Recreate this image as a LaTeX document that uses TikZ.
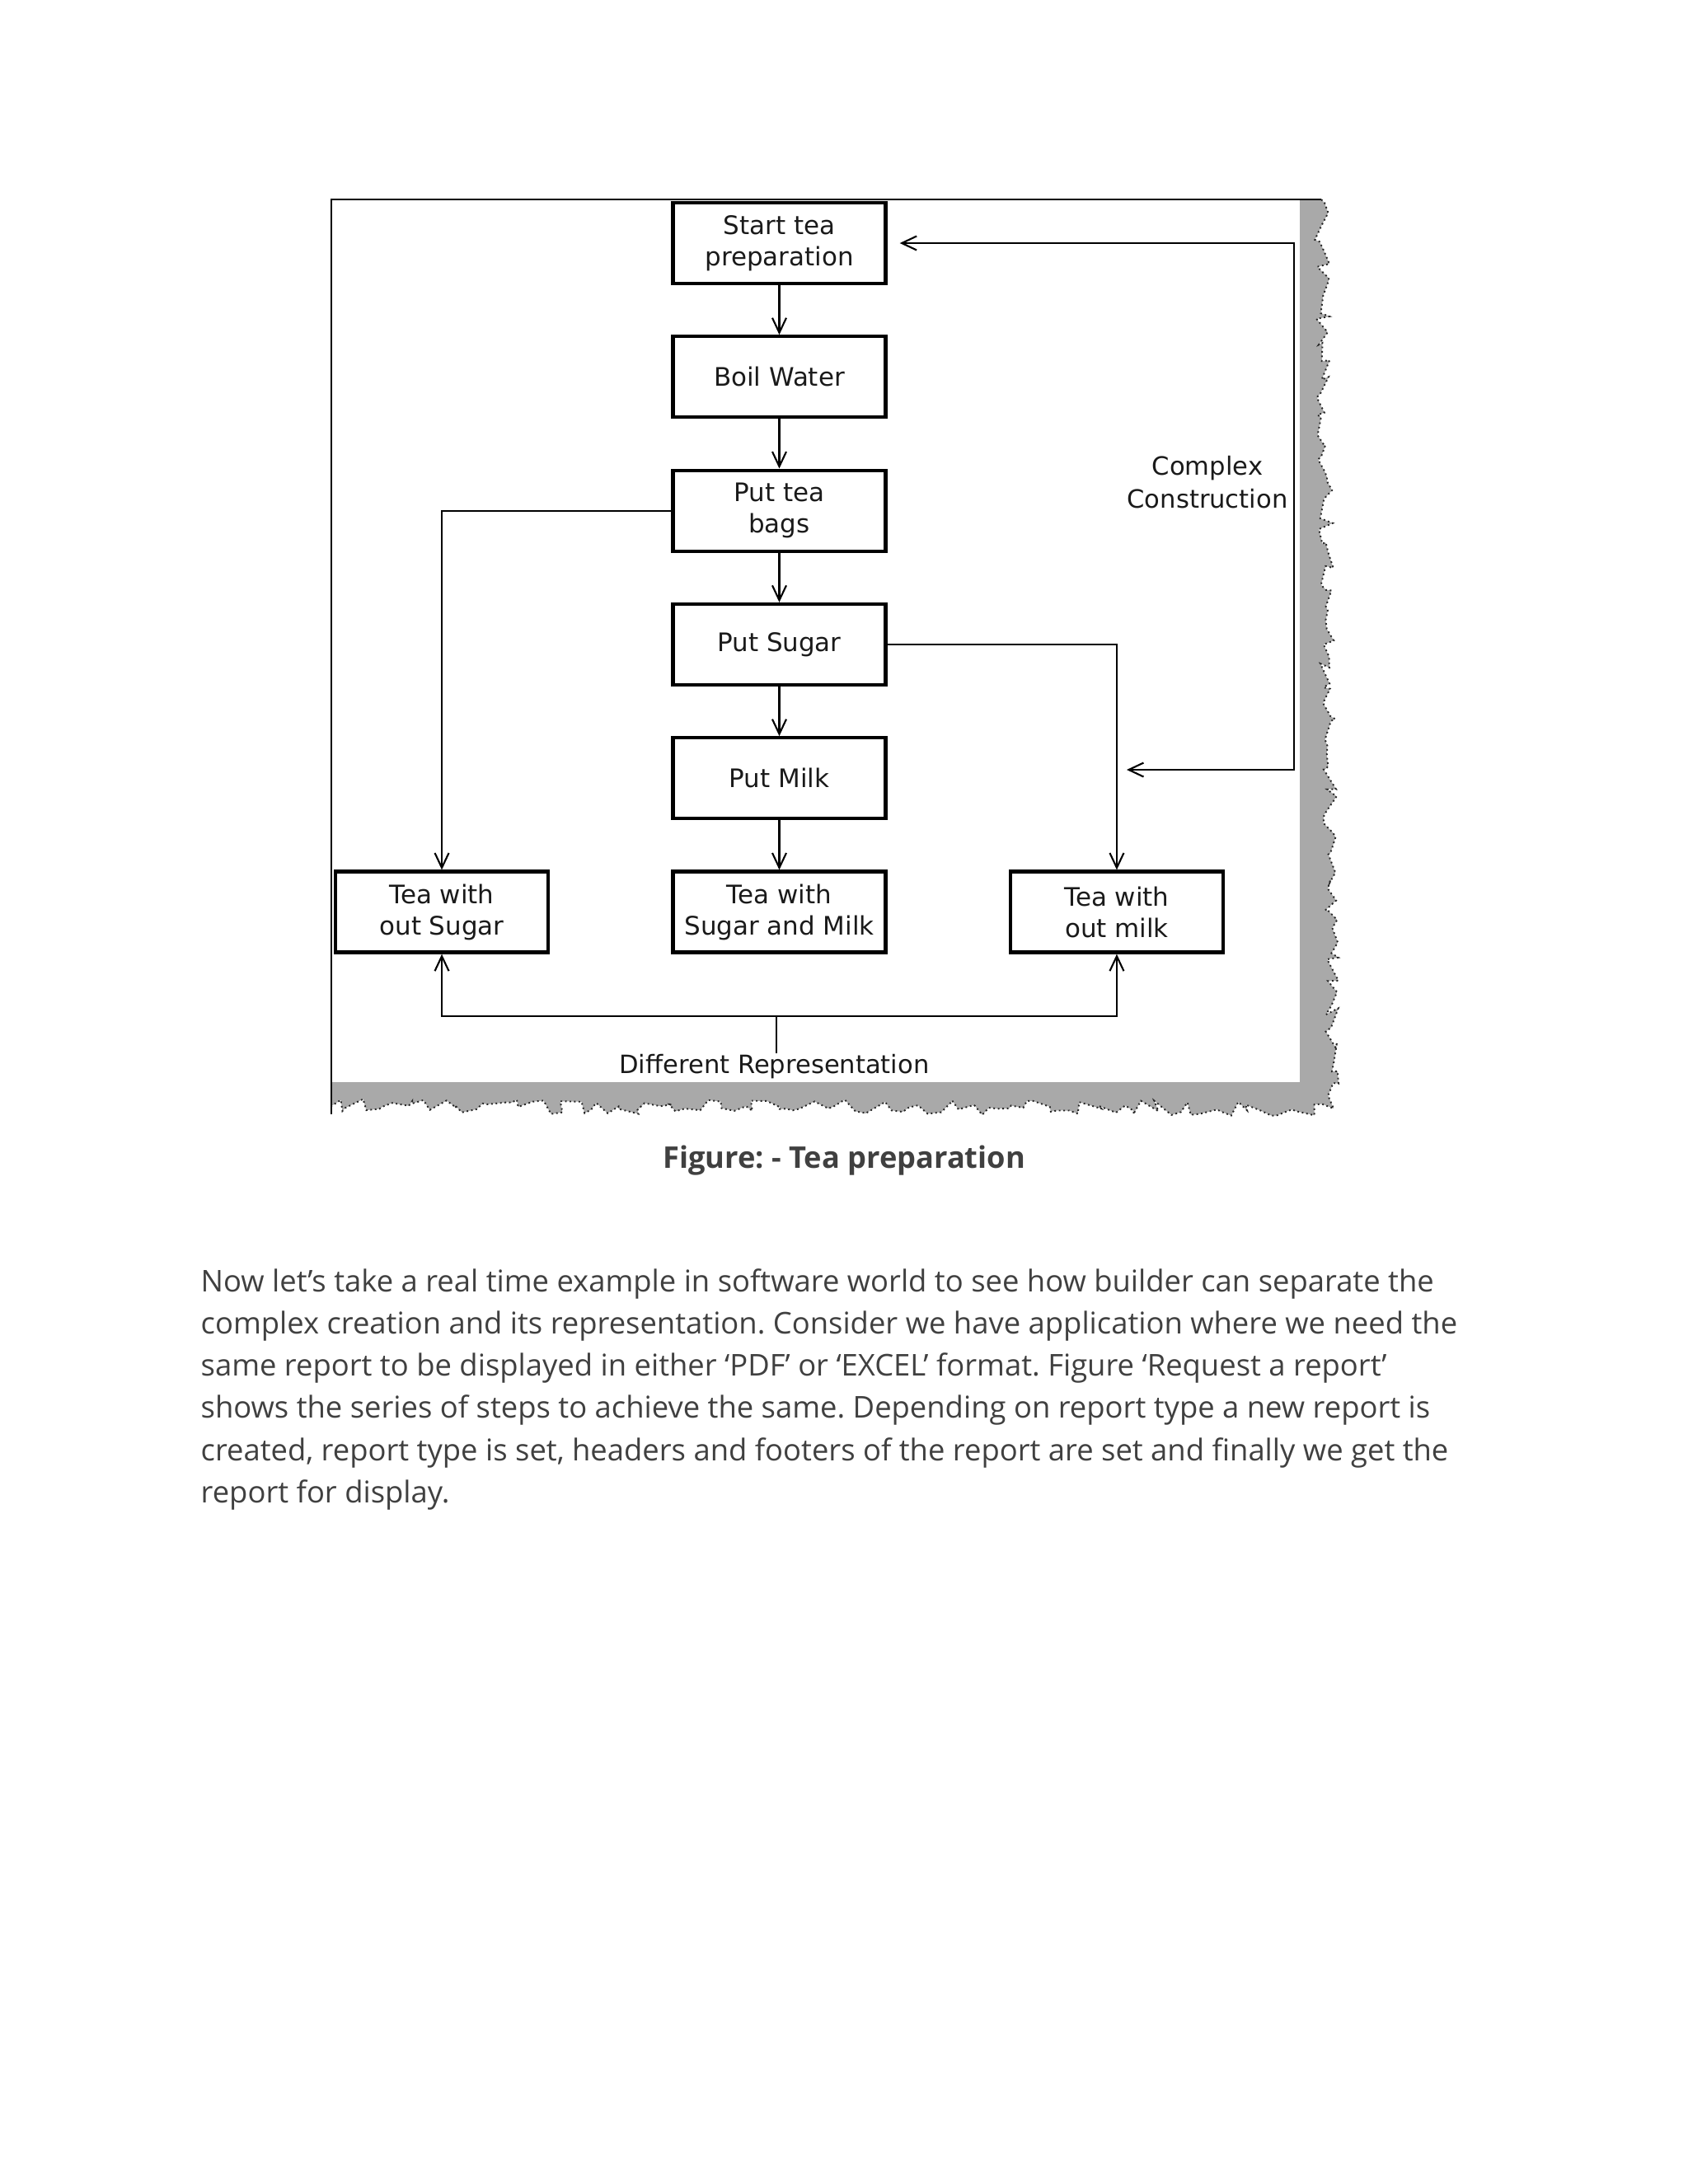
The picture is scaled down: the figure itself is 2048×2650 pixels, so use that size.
\documentclass[tikz,border=0pt]{standalone}
\usepackage{fontspec}
\usepackage{tikz}
\usetikzlibrary{arrows.meta, positioning, decorations.pathmorphing}
\usepackage{xcolor}

\newfontfamily\diafont{DejaVu Sans}
\newfontfamily\bodyfont{Open Sans}
\definecolor{inkgrey}{HTML}{1A1A1A}
\definecolor{bodygrey}{HTML}{404040}
\definecolor{shadowgrey}{HTML}{A9A9A9}
\frenchspacing

\begin{document}
\begin{tikzpicture}[
    x=0.01cm, y=-0.01cm,
    node distance=0.6cm and 1.47cm,
    >={Straight Barb[length=1.8mm, width=1.7mm]},
    box/.style={draw, line width=1.2pt, minimum width=2.58cm, minimum height=0.98cm, inner sep=2pt, font=\diafont\fontsize{8.8}{10.8}\selectfont, text=inkgrey, align=center},
    note/.style={font=\diafont\fontsize{8.7}{11.4}\selectfont, text=inkgrey, align=center},
    arrow/.style={->, line width=0.6pt},
    wire/.style={line width=0.6pt},
    torn/.style={decoration={random steps, segment length=0.1cm, amplitude=0.09cm}},
    bodytext/.style={font=\bodyfont\fontsize{10.35}{14.6}\selectfont, text=bodygrey, anchor=base west, inner sep=0pt},
]
    \fill[white] (0,0) rectangle (2048,2650);
    \useasboundingbox (0,0) rectangle (2048,2650);

    % Torn paper shadow
    \pgfmathsetseed{12}
    \fill[shadowgrey] (1577,242) -- (1603,242) decorate[torn] {-- (1618,1345) -- (402,1342)} -- (402,1313) -- (1577,1313) -- cycle;
    \pgfmathsetseed{12}
    \draw[densely dotted, gray!30!black, line width=0.55pt] (1603,242) decorate[torn] {-- (1618,1345) -- (402,1342)};

    % Frame
    \draw[wire] (1603,242) -- (402,242) -- (402,1352);

    % Main steps
    \node[box] (start) at (945.5,295) {Start tea\\preparation};
    \node[box, below=of start] (boil) {Boil Water};
    \node[box, below=of boil] (bags) {Put tea\\bags};
    \node[box, below=of bags] (sugar) {Put Sugar};
    \node[box, below=of sugar] (milk) {Put Milk};
    \node[box, below=of milk] (full) {Tea with\\Sugar and Milk};

    % Representations
    \node[box, left=of full] (nosugar) {Tea with\\out Sugar};
    \node[box, right=of full] (nomilk) {Tea with\\out milk};

    % Labels
    \node[note] (cc) at (1465,585) {Complex\\Construction};
    \node[note, anchor=base, inner sep=0pt] (rep) at (939.5,1302) {Different Representation};

    \coordinate (ccturn) at (1570,934);
    \coordinate (ccend) at (1367,934);
    \coordinate (split) at (942,1233);

    % Arrows
    \draw[arrow] (start) -- (boil);
    \draw[arrow] (boil) -- (bags);
    \draw[arrow] (bags) -- (sugar);
    \draw[arrow] (sugar) -- (milk);
    \draw[arrow] (milk) -- (full);
    \draw[arrow] (bags.west) -| (nosugar.north);
    \draw[arrow] (sugar.east) -| (nomilk.north);
    \draw[arrow, <->, shorten >=0.15cm] (ccend) -- (ccturn) |- (start.east);
    \draw[arrow] (split) -| (nosugar.south);
    \draw[arrow] (split) -| (nomilk.south);
    \draw[wire] (split) -- (split |- rep.north);

    % Caption and text
    \node[font=\bodyfont\bfseries\fontsize{10.3}{12}\selectfont, text=bodygrey, anchor=base] (caption) at (1024,1417) {Figure: - Tea preparation};
    \node[bodytext] (para1) at (243,1567) {Now let’s take a real time example in software world to see how builder can separate the};
    \node[bodytext] (para2) at (243,1618.3) {complex creation and its representation. Consider we have application where we need the};
    \node[bodytext] (para3) at (243,1669.6) {same report to be displayed in either ‘PDF’ or ‘EXCEL’ format. Figure ‘Request a report’};
    \node[bodytext] (para4) at (243,1720.9) {shows the series of steps to achieve the same. Depending on report type a new report is};
    \node[bodytext] (para5) at (243,1772.2) {created, report type is set, headers and footers of the report are set and finally we get the};
    \node[bodytext] (para6) at (243,1823.5) {report for display.};
\end{tikzpicture}
\end{document}
